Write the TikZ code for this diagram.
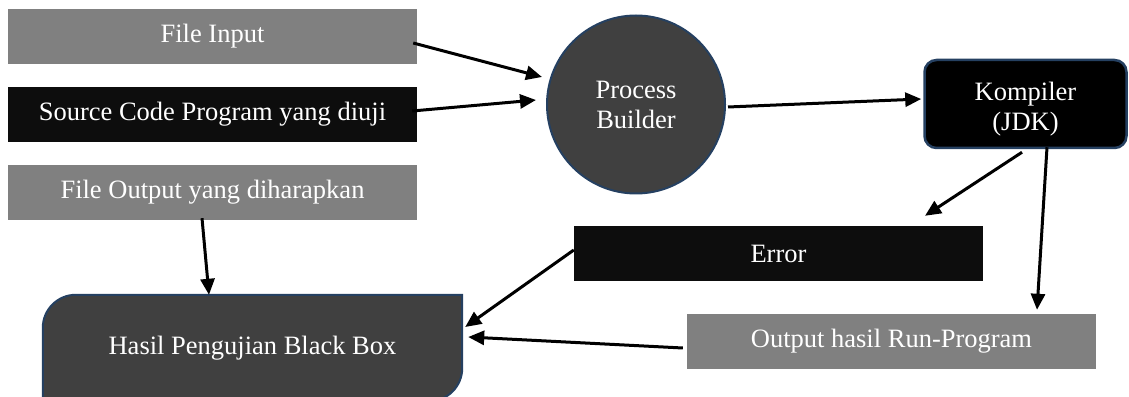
\documentclass[tikz,border=0pt]{standalone}
\usepackage{fontspec}
\setmainfont{Liberation Serif}
\usetikzlibrary{arrows.meta,backgrounds}

\begin{document}
\begin{tikzpicture}[x=1pt,y=1pt,
  font=\fontsize{26.5}{30}\selectfont,
  box/.style={rectangle,inner sep=0pt,minimum width=409pt,minimum height=55pt,text=white},
  graybox/.style={box,fill=boxgray},
  blackbox/.style={box,fill=boxblack},
  flow/.style={line width=3pt,-{Triangle[length=16pt,width=14pt]}}]
\definecolor{boxgray}{RGB}{128,128,128}
\definecolor{boxblack}{RGB}{13,13,13}
\definecolor{darkfill}{RGB}{64,64,64}
\definecolor{edgeblue}{RGB}{37,64,97}
\useasboundingbox (0,0) rectangle (1129,396);
% inputs on the left
\node [graybox] (fileIn) at (212.5,359.5) {File Input};
\node [blackbox] (source) at (212.5,281.5) {Source Code Program yang diuji};
\node [graybox] (fileOut) at (212.5,203.5) {File Output yang diharapkan};
% process and compiler
\node [circle,fill=darkfill,draw=edgeblue,line width=2pt,minimum size=178pt,inner sep=0pt,
  text=white,align=center] (builder) at (636,291.5) {Process\\Builder};
\node [rectangle,rounded corners=12pt,fill=black,draw=edgeblue,line width=2.5pt,
  minimum width=202pt,minimum height=88pt,inner sep=0pt,text=white] (kompiler) at (1025.5,292)
  {\raisebox{-12pt}[0pt][0pt]{\begin{tabular}{@{}c@{}}Kompiler\\(JDK)\end{tabular}}};
% results
\node [blackbox] (error) at (778.5,142.5) {Error};
\node [graybox] (output) at (891.5,54.5) {Output hasil Run-Program};
\node [minimum width=419pt,minimum height=106pt,inner sep=0pt,text=white] (hasil) at (252.5,48) {Hasil Pengujian Black Box};
\begin{scope}[on background layer]
\draw [fill=darkfill,draw=edgeblue,line width=2pt]
  (hasil.south west) -- ([yshift=-33pt]hasil.north west)
  arc [start angle=180,end angle=90,radius=33pt] -- (hasil.north east)
  -- ([yshift=33pt]hasil.south east)
  arc [start angle=0,end angle=-90,radius=33pt] -- cycle;
\end{scope}
% arrows
\draw [flow] ([shift={(-4,-6.5)}]fileIn.east) -- ([shift={(-94,27.5)}]builder.center);
\draw [flow] ([shift={(-5,3.5)}]source.east) -- ([shift={(-100,4.5)}]builder.center);
\draw [flow] ([shift={(92,-2.5)}]builder.center) -- ([shift={(-2,5)}]kompiler.west);
\draw [flow] ([shift={(-3.5,-3)}]kompiler.south) -- ([shift={(146.5,10)}]error.north);
\draw [flow] ([shift={(21.5,2)}]kompiler.south) -- ([shift={(145.5,4)}]output.north);
\draw [flow] ([shift={(0,3.5)}]error.west) -- ([shift={(3,21)}]hasil.east);
\draw [flow] ([shift={(-4,-6.5)}]output.west) -- ([shift={(6,11)}]hasil.east);
\draw [flow] ([shift={(-10.5,2)}]fileOut.south) -- ([shift={(-43.5,0)}]hasil.north);
\end{tikzpicture}
\end{document}
